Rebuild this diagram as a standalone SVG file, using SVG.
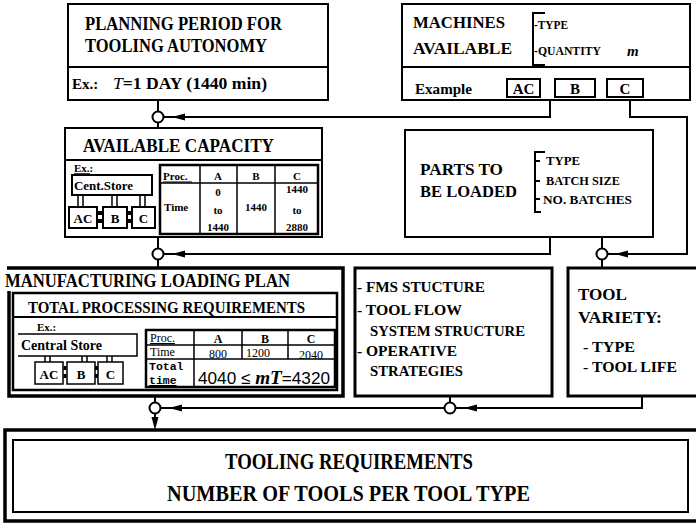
<svg xmlns="http://www.w3.org/2000/svg" xmlns:xlink="http://www.w3.org/1999/xlink" width="696" height="524" viewBox="0 0 696 524">
<style>
.b{fill:#fff;stroke:#000;stroke-width:2}
.bt{fill:#fff;stroke:#000;stroke-width:3}
.ln{fill:none;stroke:#000;stroke-width:2}
.l1{fill:none;stroke:#000;stroke-width:1.5}
.t{font-family:"Liberation Serif","Times New Roman",serif;font-weight:bold;fill:#000}
.m{text-anchor:middle}
.jn{fill:#fff;stroke:#000;stroke-width:2}
</style>
<defs>
<path id="ah" d="M0,0 L13,-3.5 L13,3.5 Z" fill="#000"/>
</defs>
<rect width="696" height="524" fill="#fff"/>

<g id="connectors">
<path class="ln" d="M158,100 V128"/>
<path class="ln" d="M550,100 V117 H164"/>
<use xlink:href="#ah" x="172" y="117"/>
<path class="ln" d="M630,100 V117 H687 V254 H608"/>
<use xlink:href="#ah" x="615" y="254"/>
<path class="ln" d="M550,237 V254 H164"/>
<use xlink:href="#ah" x="172" y="254"/>
<path class="ln" d="M158,237 V268"/>
<path class="ln" d="M602,237 V268"/>
<path class="ln" d="M155,396 V420"/>
<path d="M151.5,417 L158.5,417 L155,430 Z" fill="#000"/>
<path class="ln" d="M450,396 V408"/>
<path class="ln" d="M642,396 V408 H456"/>
<use xlink:href="#ah" x="464" y="408"/>
<path class="ln" d="M444,408 H161"/>
<use xlink:href="#ah" x="169" y="408"/>
<circle class="jn" cx="158" cy="117" r="5.5"/>
<circle class="jn" cx="158" cy="254" r="5.5"/>
<circle class="jn" cx="602" cy="254" r="5.5"/>
<circle class="jn" cx="155" cy="408" r="5.5"/>
<circle class="jn" cx="450" cy="408" r="5.5"/>
</g>

<g id="n-planning">
<rect class="b" x="68" y="4" width="260" height="96"/>
<line class="ln" x1="68" y1="67" x2="328" y2="67"/>
<text class="t" x="85" y="30" font-size="19" textLength="197" lengthAdjust="spacingAndGlyphs">PLANNING PERIOD FOR</text>
<text class="t" x="85" y="52" font-size="19" textLength="182" lengthAdjust="spacingAndGlyphs">TOOLING AUTONOMY</text>
<text class="t" x="72" y="89" font-size="15">Ex.:</text>
<text class="t" x="113" y="89" font-size="16" textLength="154" lengthAdjust="spacingAndGlyphs"><tspan font-style="italic" font-weight="normal">T</tspan>=1 DAY (1440 min)</text>
</g>

<g id="n-machines">
<rect class="b" x="402" y="4" width="288" height="96"/>
<line class="ln" x1="402" y1="67" x2="690" y2="67"/>
<text class="t" x="413" y="28" font-size="17" textLength="92" lengthAdjust="spacingAndGlyphs">MACHINES</text>
<text class="t" x="413" y="54" font-size="17" textLength="99" lengthAdjust="spacingAndGlyphs">AVAILABLE</text>
<path class="ln" d="M545,13 H533 V65 H545"/>
<text class="t" x="534" y="29" font-size="13" textLength="34" lengthAdjust="spacingAndGlyphs">-TYPE</text>
<text class="t" x="534" y="55" font-size="13" textLength="67" lengthAdjust="spacingAndGlyphs">-QUANTITY</text>
<text class="t" x="627" y="56" font-size="15" font-style="italic">m</text>
<text class="t" x="415" y="94" font-size="14" textLength="57" lengthAdjust="spacingAndGlyphs">Example</text>
<rect class="b" x="507" y="79" width="33" height="18"/>
<rect class="b" x="555" y="79" width="40" height="18"/>
<rect class="b" x="607" y="79" width="36" height="18"/>
<text class="t m" x="523.5" y="94" font-size="15">AC</text>
<text class="t m" x="575" y="94" font-size="15">B</text>
<text class="t m" x="625" y="94" font-size="15">C</text>
</g>

<g id="n-capacity">
<rect class="b" x="65" y="128" width="257" height="109"/>
<line class="ln" x1="65" y1="160" x2="322" y2="160"/>
<text class="t" x="83" y="152" font-size="19" textLength="191" lengthAdjust="spacingAndGlyphs">AVAILABLE CAPACITY</text>
<text class="t" x="74" y="172" font-size="11">Ex.:</text>
<line class="l1" x1="74" y1="174" x2="90" y2="174"/>
<rect class="b" x="72" y="175" width="80" height="20"/>
<text class="t" x="74" y="190" font-size="12.5" textLength="59" lengthAdjust="spacingAndGlyphs">Cent.Store</text>
<path class="l1" d="M78,195 V207 M83,195 V207 M112,195 V207 M117,195 V207 M140,195 V207 M145,195 V207"/>
<rect class="b" x="69" y="207" width="28" height="21"/>
<rect class="b" x="103" y="207" width="24" height="21"/>
<rect class="b" x="132" y="207" width="23" height="21"/>
<path d="M98,211h4v4h-4z M98,219h4v4h-4z M128,211h4v4h-4z M128,219h4v4h-4z" fill="#000"/>
<text class="t m" x="83" y="223" font-size="13">AC</text>
<text class="t m" x="115" y="223" font-size="13">B</text>
<text class="t m" x="143.5" y="223" font-size="13">C</text>
<rect x="160" y="165" width="158" height="69" fill="#fff" stroke="#000" stroke-width="2.5"/>
<path class="l1" d="M160,183 H318 M200,165 V234 M237,165 V234 M275,165 V234"/>
<text class="t" x="163" y="180" font-size="11">Proc.</text>
<line x1="163" y1="182" x2="192" y2="182" stroke="#000" stroke-width="1"/>
<text class="t m" x="218" y="180" font-size="11">A</text>
<text class="t m" x="256" y="180" font-size="11">B</text>
<text class="t m" x="297" y="180" font-size="11">C</text>
<text class="t" x="164" y="211" font-size="11">Time</text>
<text class="t m" x="218" y="196" font-size="11">0</text>
<text class="t m" x="218" y="214" font-size="11">to</text>
<text class="t m" x="218" y="231" font-size="11">1440</text>
<text class="t m" x="256" y="211" font-size="11">1440</text>
<text class="t m" x="297" y="193" font-size="11">1440</text>
<text class="t m" x="297" y="214" font-size="11">to</text>
<text class="t m" x="297" y="231" font-size="11">2880</text>
</g>

<g id="n-parts">
<rect class="b" x="405" y="130" width="248" height="107"/>
<text class="t" x="420" y="175" font-size="17" textLength="83" lengthAdjust="spacingAndGlyphs">PARTS TO</text>
<text class="t" x="420" y="197" font-size="17" textLength="97" lengthAdjust="spacingAndGlyphs">BE LOADED</text>
<path class="ln" d="M545,152 H535 V212 H541 M535,161 H540 M535,181 H540 M535,199 H540"/>
<text class="t" x="546" y="165" font-size="12.5" textLength="34" lengthAdjust="spacingAndGlyphs">TYPE</text>
<text class="t" x="546" y="185" font-size="12.5" textLength="74" lengthAdjust="spacingAndGlyphs">BATCH SIZE</text>
<text class="t" x="543" y="204" font-size="12.5" textLength="89" lengthAdjust="spacingAndGlyphs">NO. BATCHES</text>
</g>

<g id="n-loading">
<path d="M7,268 H343 V396 H9 V291" fill="#fff" stroke="#000" stroke-width="3.5"/>
<text class="t" x="5" y="287" font-size="19" textLength="285" lengthAdjust="spacingAndGlyphs">MANUFACTURING LOADING PLAN</text>
<rect x="13" y="293" width="324" height="97" fill="#fff" stroke="#000" stroke-width="2.5"/>
<line class="ln" x1="13" y1="317" x2="337" y2="317"/>
<text class="t" x="28" y="313" font-size="17" textLength="277" lengthAdjust="spacingAndGlyphs">TOTAL PROCESSING REQUIREMENTS</text>
<text class="t" x="37" y="331" font-size="11">Ex.:</text>
<path class="l1" d="M18,334 H137 V356 H18"/>
<text class="t" x="21" y="350" font-size="14" textLength="81" lengthAdjust="spacingAndGlyphs">Central Store</text>
<path class="l1" d="M45,356 V362 M50,356 V362 M82,356 V362 M87,356 V362 M107,356 V362 M112,356 V362"/>
<rect class="l1" x="35" y="362" width="28" height="22" fill="#fff"/>
<rect class="l1" x="67" y="362" width="28" height="22" fill="#fff"/>
<rect class="l1" x="98" y="362" width="25" height="22" fill="#fff"/>
<path d="M63.5,366h3v4h-3z M63.5,374h3v4h-3z M95,366h3v4h-3z M95,374h3v4h-3z" fill="#000"/>
<text class="t m" x="49" y="379" font-size="13">AC</text>
<text class="t m" x="81" y="379" font-size="13">B</text>
<text class="t m" x="110.5" y="379" font-size="13">C</text>
<rect x="146" y="330" width="189" height="57" fill="#fff" stroke="#000" stroke-width="2.5"/>
<path class="l1" d="M146,345 H335 M146,359 H335 M194,330 V387 M242,330 V359 M288,330 V359"/>
<text x="150" y="342" font-size="12" font-family="Liberation Serif, serif" text-decoration="underline">Proc.</text>
<text class="t m" x="218" y="343" font-size="12">A</text>
<text class="t m" x="265" y="343" font-size="12">B</text>
<text class="t m" x="311" y="343" font-size="12">C</text>
<text x="150" y="356" font-size="12" font-family="Liberation Serif, serif">Time</text>
<text x="218" y="358" font-size="12" font-family="Liberation Serif, serif" text-anchor="middle">800</text>
<text x="246" y="357" font-size="12" font-family="Liberation Serif, serif">1200</text>
<text x="311" y="359" font-size="12" font-family="Liberation Serif, serif" text-anchor="middle">2040</text>
<text x="149" y="370" font-size="11.5" font-weight="bold" font-family="Liberation Mono, monospace">Total</text>
<text x="149" y="384" font-size="11.5" font-weight="bold" font-family="Liberation Mono, monospace" text-decoration="underline">time</text>
<text x="198" y="384" font-size="17" font-family="Liberation Sans, Arial, sans-serif" textLength="132" lengthAdjust="spacingAndGlyphs">4040 ≤ <tspan font-family="Liberation Serif, serif" font-weight="bold" font-style="italic" font-size="19">mT</tspan>=4320</text>
</g>

<g id="n-fms">
<rect class="bt" x="355" y="268" width="197" height="128"/>
<text class="t" x="357" y="292" font-size="15" textLength="128" lengthAdjust="spacingAndGlyphs">- FMS STUCTURE</text>
<text class="t" x="357" y="315" font-size="15" textLength="105" lengthAdjust="spacingAndGlyphs">- TOOL FLOW</text>
<text class="t" x="370" y="336" font-size="15" textLength="155" lengthAdjust="spacingAndGlyphs">SYSTEM STRUCTURE</text>
<text class="t" x="357" y="356" font-size="15" textLength="100" lengthAdjust="spacingAndGlyphs">- OPERATIVE</text>
<text class="t" x="370" y="376" font-size="15" textLength="93" lengthAdjust="spacingAndGlyphs">STRATEGIES</text>
</g>

<g id="n-variety">
<rect class="bt" x="568" y="268" width="140" height="128"/>
<text class="t" x="578" y="300" font-size="17" textLength="49" lengthAdjust="spacingAndGlyphs">TOOL</text>
<text class="t" x="578" y="323" font-size="17" textLength="84" lengthAdjust="spacingAndGlyphs">VARIETY:</text>
<text class="t" x="583" y="352" font-size="15" textLength="52" lengthAdjust="spacingAndGlyphs">- TYPE</text>
<text class="t" x="583" y="372" font-size="15" textLength="94" lengthAdjust="spacingAndGlyphs">- TOOL LIFE</text>
</g>

<g id="n-requirements">
<rect x="5" y="430" width="700" height="91" fill="#fff" stroke="#000" stroke-width="3.5"/>
<rect class="b" x="13" y="440" width="675" height="72"/>
<text class="t" x="225" y="469" font-size="24" textLength="248" lengthAdjust="spacingAndGlyphs">TOOLING REQUIREMENTS</text>
<text class="t" x="167" y="501" font-size="24" textLength="363" lengthAdjust="spacingAndGlyphs">NUMBER OF TOOLS PER TOOL TYPE</text>
</g>
</svg>
